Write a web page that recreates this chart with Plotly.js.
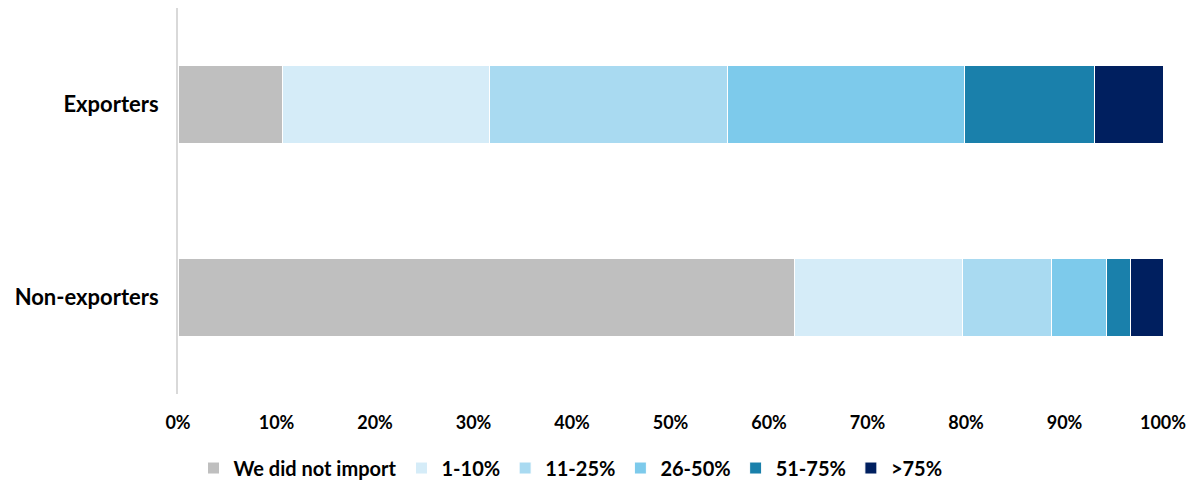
<!DOCTYPE html>
<html>
<head>
<meta charset="utf-8">
<script src="https://cdn.plot.ly/plotly-3.0.1.min.js"></script>
<style>html,body{margin:0;padding:0;background:#fff;}#chart{width:1196px;height:485px;}</style>
</head>
<body>
<div id="chart"></div>
<script>
const categories = ['Non-exporters', 'Exporters'];
const seriesNames = ['We did not import', '1-10%', '11-25%', '26-50%', '51-75%', '>75%'];
const seriesColors = ['#BFBFBF', '#D5ECF8', '#A9DAF1', '#7DCAEB', '#1A80AB', '#001F5F'];
const notImport = [62.6, 10.6];
const pct1to10 = [17.0, 21.0];
const pct11to25 = [9.1, 24.2];
const pct26to50 = [5.6, 24.0];
const pct51to75 = [2.4, 13.2];
const pctOver75 = [3.3, 7.0];
const tickVals = [0, 10, 20, 30, 40, 50, 60, 70, 80, 90, 100];
const tickText = ['0%', '10%', '20%', '30%', '40%', '50%', '60%', '70%', '80%', '90%', '100%'];

const allSeries = [notImport, pct1to10, pct11to25, pct26to50, pct51to75, pctOver75];
const traces = allSeries.map((vals, i) => ({
  type: 'bar',
  orientation: 'h',
  name: seriesNames[i],
  y: categories,
  x: vals,
  marker: {color: seriesColors[i], line: {color: '#FFFFFF', width: 1}},
  hoverinfo: 'x+name'
}));

const fam = 'Lato, "Open Sans", sans-serif';
const layout = {
  width: 1196, height: 485,
  margin: {l: 178, r: 33, t: 8, b: 91},
  barmode: 'stack',
  bargap: 0.6,
  paper_bgcolor: '#fff', plot_bgcolor: '#fff',
  font: {family: fam, size: 17, color: '#000'},
  showlegend: true,
  legend: {orientation: 'h', xref: 'container', yref: 'container', x: 0.477, xanchor: 'center',
           y: 0.035, yanchor: 'middle', traceorder: 'normal',
           font: {family: fam, size: 20, color: '#000', weight: 'bold'}, itemwidth: 30},
  xaxis: {range: [0, 100], tickvals: tickVals, ticktext: tickText, showgrid: false, zeroline: false,
          showline: false, ticks: 'outside', ticklen: 12, tickcolor: 'rgba(0,0,0,0)',
          tickfont: {family: fam, size: 18, color: '#000', weight: 'bold'}, fixedrange: true},
  yaxis: {showline: true, linecolor: '#D9D9D9', linewidth: 2, showgrid: false, zeroline: false,
          ticks: 'outside', ticklen: 13, tickcolor: 'rgba(0,0,0,0)',
          tickfont: {family: fam, size: 22, color: '#000', weight: 'bold'}, fixedrange: true}
};
Plotly.newPlot('chart', traces, layout, {displayModeBar: false});
</script>
</body>
</html>
